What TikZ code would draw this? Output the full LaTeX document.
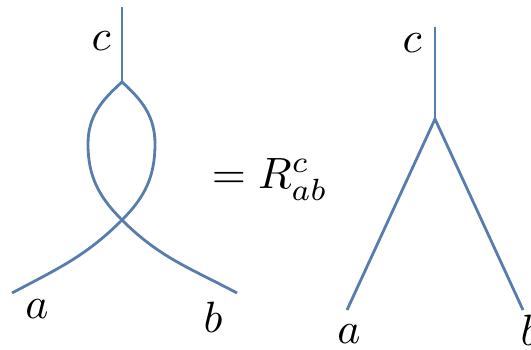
\documentclass[tikz,border=0pt]{standalone}
\definecolor{strand}{RGB}{88,124,172}
\begin{document}
\begin{tikzpicture}[x=1bp,y=1bp,
  strandline/.style={draw=strand,line width=2.8bp},
  lbl/.style={inner sep=0pt,scale=4.4,anchor=base}]
\useasboundingbox (0,0) rectangle (531,349);
% left diagram
\coordinate (T1) at (122,342);
\coordinate (V1) at (122,267);
\coordinate (L1) at (88,205);
\coordinate (R1) at (155,205);
\coordinate (X1) at (122,129);
\coordinate (A1) at (12,56);
\coordinate (B1) at (237,56);
\draw[strandline] (T1) -- (V1);
\draw[strandline] (A1) to[out=28,in=225] (X1) to[out=45,in=-90] (R1) to[out=90,in=-42] (V1);
\draw[strandline] (B1) to[out=152,in=-45] (X1) to[out=135,in=-90] (L1) to[out=90,in=222] (V1);
\node[lbl] (c1) at (101,299) {$c$};
\node[lbl] (a1) at (37,31) {$a$};
\node[lbl] (b1) at (213,17) {$b$};
% equation
\node[lbl,anchor=base west] (eq) at (211,161) {$=R^c_{ab}$};
% right diagram
\coordinate (T2) at (435,322);
\coordinate (V2) at (435,230);
\coordinate (A2) at (347,39);
\coordinate (B2) at (523,39);
\draw[strandline] (T2) -- (V2);
\draw[strandline] (A2) -- (V2) -- (B2);
\node[lbl] (c2) at (412,297) {$c$};
\node[lbl] (a2) at (349,6) {$a$};
\node[lbl] (b2) at (530,4) {$b$};
\end{tikzpicture}
\end{document}
